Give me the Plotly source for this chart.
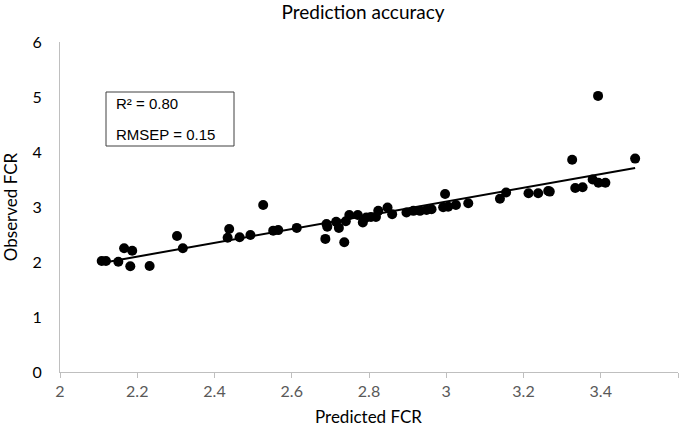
import numpy as np
import plotly.graph_objects as go

predicted = [2.108, 2.119, 2.151, 2.166, 2.187, 2.182, 2.232, 2.303, 2.318, 2.438,
             2.434, 2.465, 2.493, 2.526, 2.552, 2.565, 2.613, 2.687, 2.690, 2.692,
             2.715, 2.722, 2.736, 2.740, 2.749, 2.771, 2.784, 2.793, 2.805, 2.818,
             2.824, 2.848, 2.860, 2.897, 2.915, 2.932, 2.949, 2.962, 2.997, 2.992,
             3.005, 3.025, 3.057, 3.139, 3.155, 3.213, 3.238, 3.264, 3.268, 3.326,
             3.334, 3.353, 3.379, 3.393, 3.394, 3.412, 3.489]
observed = [2.018, 2.018, 2.005, 2.250, 2.205, 1.924, 1.927, 2.473, 2.250, 2.600,
            2.440, 2.450, 2.490, 3.036, 2.570, 2.580, 2.620, 2.420, 2.690, 2.640,
            2.730, 2.620, 2.360, 2.740, 2.855, 2.855, 2.720, 2.810, 2.820, 2.820,
            2.930, 2.990, 2.870, 2.900, 2.930, 2.930, 2.945, 2.960, 3.236, 2.995,
            3.005, 3.036, 3.067, 3.150, 3.265, 3.250, 3.250, 3.290, 3.280, 3.860,
            3.345, 3.360, 3.500, 5.020, 3.440, 3.440, 3.880]

x_ticks = [2, 2.2, 2.4, 2.6, 2.8, 3, 3.2, 3.4, 3.6]
x_tick_labels = ["2", "2.2", "2.4", "2.6", "2.8", "3", "3.2", "3.4", "3.6"]
y_ticks = [0, 1, 2, 3, 4, 5, 6]
stats_lines = ["R² = 0.80", "RMSEP = 0.15"]

xa = np.array(predicted)
ya = np.array(observed)
slope, intercept = np.polyfit(xa, ya, 1)
line_x = [xa.min(), xa.max()]
line_y = [slope * v + intercept for v in line_x]

# plot area in pixels
L, R, T, B = 60, 678, 42, 372
W, H = R - L, B - T
FIG_W, FIG_H = 685, 429


def px(x):
    return (x - L) / W


def py(y):
    return (B - y) / H


fig = go.Figure()
fig.add_trace(go.Scatter(x=predicted, y=observed, mode="markers",
                         marker=dict(color="black", size=10), showlegend=False,
                         hoverinfo="x+y"))
fig.add_trace(go.Scatter(x=line_x, y=line_y, mode="lines",
                         line=dict(color="black", width=2), showlegend=False))

fig.update_layout(
    width=FIG_W, height=FIG_H,
    paper_bgcolor="white", plot_bgcolor="white",
    margin=dict(l=L, r=FIG_W - R, t=T, b=FIG_H - B, autoexpand=False),
    title=dict(text="Prediction accuracy", x=0.53, xanchor="center",
               y=1 - 12 / FIG_H, yanchor="middle",
               font=dict(family="Lato", size=19, color="black")),
    xaxis=dict(range=[2, 3.6], tickvals=x_ticks, ticktext=x_tick_labels,
               showgrid=False, zeroline=False, showline=True, linecolor="#bfbfbf", linewidth=1,
               ticks="outside", ticklen=5, tickcolor="#bfbfbf",
               tickfont=dict(family="Lato", size=16, color="#595959")),
    yaxis=dict(range=[0, 6], tickvals=y_ticks,
               showgrid=False, zeroline=False, showline=True, linecolor="#bfbfbf", linewidth=1,
               ticks="", ticklabelstandoff=14,
               tickfont=dict(family="Lato", size=16, color="black"),
               title=dict(text="Observed FCR", font=dict(family="Lato", size=17, color="black"),
                          standoff=10)),
    shapes=[dict(type="rect", xref="paper", yref="paper",
                 x0=px(106), x1=px(234), y0=py(146), y1=py(92),
                 line=dict(color="#404040", width=1), fillcolor="white")],
    annotations=[
        dict(text=stats_lines[0], xref="paper", yref="paper", x=px(114), y=py(103),
             xanchor="left", yanchor="middle", showarrow=False,
             font=dict(family="Liberation Sans", size=15, color="black")),
        dict(text=stats_lines[1], xref="paper", yref="paper", x=px(114), y=py(134),
             xanchor="left", yanchor="middle", showarrow=False,
             font=dict(family="Liberation Sans", size=15, color="black")),
        dict(text="Predicted FCR", xref="paper", yref="paper", x=px(368), y=py(417),
             xanchor="center", yanchor="middle", showarrow=False, borderpad=0,
             font=dict(family="Lato", size=17, color="black")),
    ],
)

fig.write_html("out.html", config={"displayModeBar": False},
               post_script="document.body.style.margin='0px';")
